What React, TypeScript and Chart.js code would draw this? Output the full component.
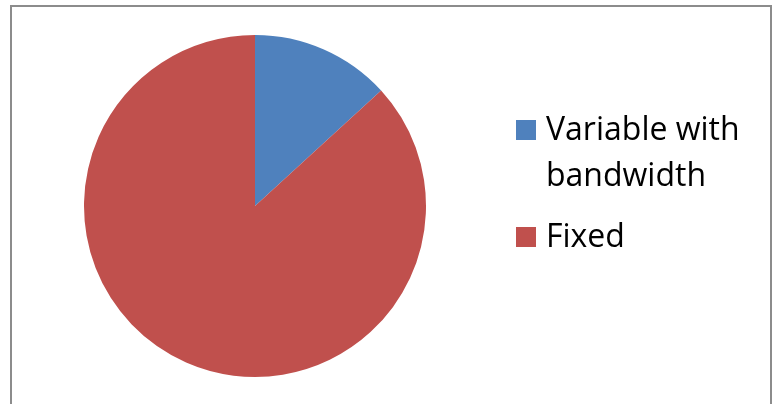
import React, { useEffect, useRef } from "react";
import { Chart, registerables } from "chart.js";

Chart.register(...registerables);

const categories: string[][] = [["Variable with", "bandwidth"], ["Fixed"]];
const values: number[] = [13.2, 86.8];
const colors: string[] = ["#4F81BD", "#C0504D"];

const legendPlugin = {
  id: "customLegend",
  afterDraw(chart: any) {
    const ctx = chart.ctx;
    const labels = chart.data.labels as string[][];
    const bg = chart.data.datasets[0].backgroundColor as string[];
    ctx.save();
    ctx.font = "32px 'Open Sans'";
    ctx.textBaseline = "alphabetic";
    ctx.fillStyle = "#000";
    let y = 140;
    labels.forEach((lines, i) => {
      ctx.fillStyle = bg[i];
      ctx.fillRect(516, y - 20, 20, 20);
      ctx.fillStyle = "#000";
      lines.forEach((line, j) => {
        ctx.fillText(line, 546, y + j * 46);
      });
      y += (lines.length - 1) * 46 + 61;
    });
    ctx.restore();
  },
};

export default function App() {
  const ref = useRef<HTMLCanvasElement>(null);
  useEffect(() => {
    const chart = new Chart(ref.current!, {
      type: "pie",
      data: {
        labels: categories as any,
        datasets: [
          {
            data: values,
            backgroundColor: colors,
            borderWidth: 0,
          },
        ],
      },
      options: {
        animation: false,
        responsive: false,
        layout: { padding: { top: 35, bottom: 27, left: 84, right: 351 } },
        plugins: {
          legend: { display: false },
          tooltip: { enabled: false },
        },
      },
      plugins: [legendPlugin],
    });
    return () => chart.destroy();
  }, []);
  return (
    <div style={{ position: "fixed", left: 0, top: 0, width: 777, height: 404, background: "#fff" }}>
      <div
        style={{
          position: "absolute",
          left: 10,
          top: 5,
          width: 762,
          height: 420,
          border: "2px solid #8c8c8c",
          boxSizing: "border-box",
        }}
      />
      <canvas ref={ref} width={777} height={404} style={{ position: "absolute", left: 0, top: 0 }} />
    </div>
  );
}
